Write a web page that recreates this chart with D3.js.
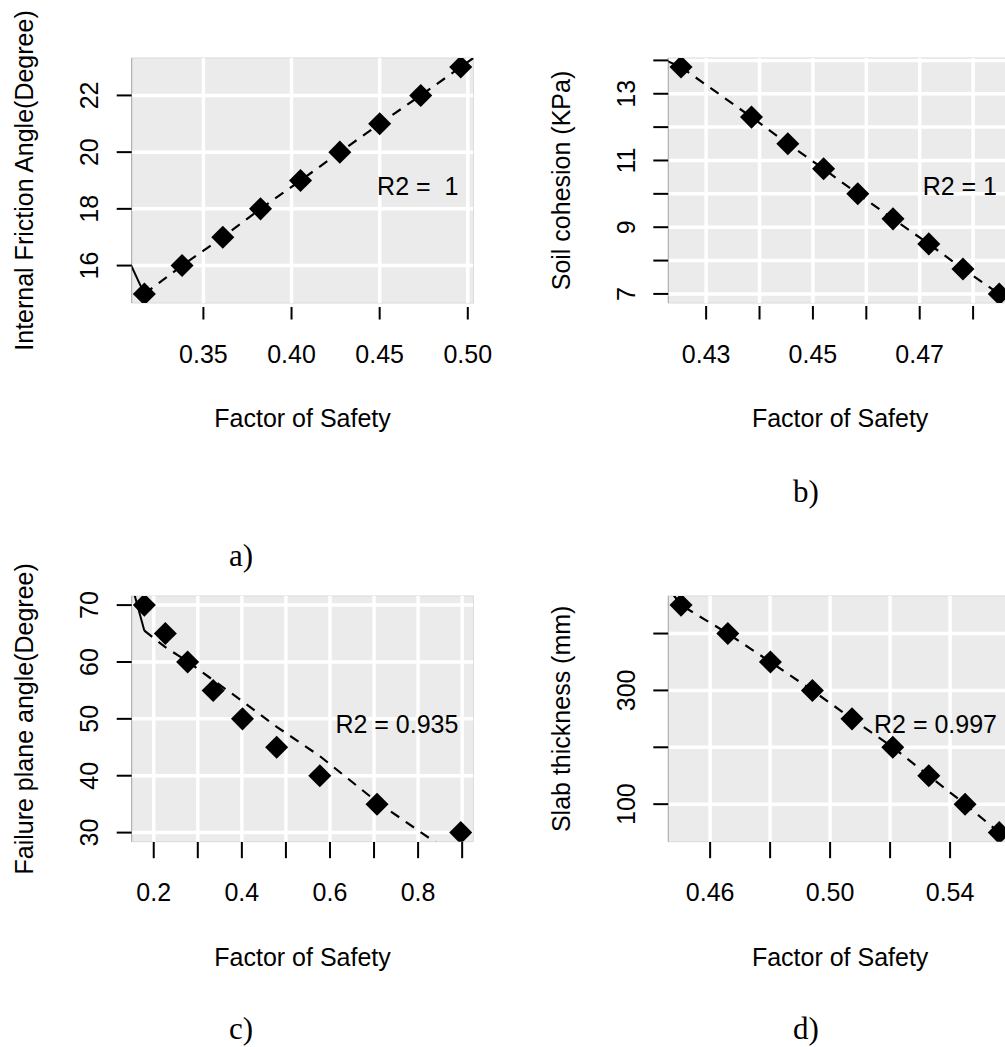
<!DOCTYPE html>
<html>
<head>
<meta charset="utf-8">
<script src="https://cdn.jsdelivr.net/npm/d3@7"></script>
<style>
  body { margin: 0; background: #fff; }
  svg { display: block; }
  text { font-family: "Liberation Sans", Arial, Helvetica, sans-serif; fill: #000; }
  .caption { font-family: "Liberation Serif", "Times New Roman", serif; }
</style>
</head>
<body>
<svg id="chart" width="1005" height="1047"></svg>
<script>
// ---- a) internal friction angle vs factor of safety ----
const fsFriction     = [0.3165, 0.3379, 0.3610, 0.3824, 0.4051, 0.4274, 0.4500, 0.4733, 0.4960];
const frictionAngle  = [15, 16, 17, 18, 19, 20, 21, 22, 23];
const frictionFitX   = [0.3165, 0.3379, 0.3610, 0.3824, 0.4051, 0.4274, 0.4500, 0.4733, 0.4960, 0.5050];
const frictionFitY   = [15, 16, 17, 18, 19, 20, 21, 22, 23, 23.4];
const frictionLeadX  = [0.3050, 0.3165];
const frictionLeadY  = [16.54, 15];
const frictionXTicks = [0.35, 0.40, 0.45, 0.50];
const frictionXLabels = ["0.35", "0.40", "0.45", "0.50"];
const frictionYTicks = [16, 18, 20, 22];
const frictionYLabels = ["16", "18", "20", "22"];

// ---- b) soil cohesion vs factor of safety ----
const fsCohesion     = [0.4253, 0.4385, 0.4453, 0.4520, 0.4584, 0.4650, 0.4717, 0.4781, 0.4849];
const cohesion       = [13.8, 12.3, 11.5, 10.75, 10, 9.25, 8.5, 7.75, 7];
const cohesionFitX   = [0.4253, 0.4385, 0.4453, 0.4520, 0.4584, 0.4650, 0.4717, 0.4781, 0.4849, 0.4900];
const cohesionFitY   = [13.8, 12.3, 11.5, 10.75, 10, 9.25, 8.5, 7.75, 7, 6.42];
const cohesionLeadX  = [0.4200, 0.4253];
const cohesionLeadY  = [14.17, 13.8];
const cohesionXTicks = [0.43, 0.44, 0.45, 0.46, 0.47, 0.48];
const cohesionXLabels = ["0.43", "", "0.45", "", "0.47", ""];
const cohesionYTicks = [7, 8, 9, 10, 11, 12, 13, 14];
const cohesionYLabels = ["7", "", "9", "", "11", "", "13", ""];

// ---- c) failure plane angle vs factor of safety ----
const fsFailure      = [0.1787, 0.2263, 0.2769, 0.3349, 0.4014, 0.4790, 0.5769, 0.7068, 0.8968];
const failureAngle   = [70, 65, 60, 55, 50, 45, 40, 35, 30];
const failureFitX    = [0.1787, 0.2263, 0.2769, 0.3349, 0.4014, 0.4790, 0.5769, 0.7068, 0.8968];
const failureFitY    = [65.5, 62.6, 60.1, 56.8, 53.1, 48.6, 43.45, 35.4, 25.2];
const failureLeadX   = [0.1550, 0.1787];
const failureLeadY   = [72.2, 65.5];
const failureXTicks  = [0.2, 0.3, 0.4, 0.5, 0.6, 0.7, 0.8, 0.9];
const failureXLabels = ["0.2", "", "0.4", "", "0.6", "", "0.8", ""];
const failureYTicks  = [30, 40, 50, 60, 70];
const failureYLabels = ["30", "40", "50", "60", "70"];

// ---- d) slab thickness vs factor of safety ----
const fsSlab         = [0.4503, 0.4659, 0.4801, 0.4941, 0.5073, 0.5209, 0.5329, 0.5450, 0.5564];
const slabThickness  = [450, 400, 350, 300, 250, 200, 150, 100, 50];
const slabFitX       = [0.4475, 0.4503, 0.4659, 0.4801, 0.4941, 0.5073, 0.5209, 0.5329, 0.5450, 0.5564, 0.5620];
const slabFitY       = [470, 450, 400, 350, 300, 250, 200, 150, 100, 50, 29];
const slabLeadX      = [];
const slabLeadY      = [];
const slabXTicks     = [0.46, 0.48, 0.50, 0.52, 0.54];
const slabXLabels    = ["0.46", "", "0.50", "", "0.54"];
const slabYTicks     = [100, 200, 300, 400];
const slabYLabels    = ["100", "", "300", ""];

const xTitle = "Factor of Safety";
const yTitles = ["Internal Friction Angle(Degree)", "Soil cohesion (KPa)", "Failure plane angle(Degree)", "Slab thickness (mm)"];
const r2Labels = ["R2 =  1", "R2 = 1", "R2 = 0.935", "R2 = 0.997"];
const captions = ["a)", "b)", "c)", "d)"];

const panelData = [
  { x: fsFriction, y: frictionAngle, fx: frictionFitX, fy: frictionFitY, lx: frictionLeadX, ly: frictionLeadY,
    xt: frictionXTicks, xl: frictionXLabels, yt: frictionYTicks, yl: frictionYLabels },
  { x: fsCohesion, y: cohesion, fx: cohesionFitX, fy: cohesionFitY, lx: cohesionLeadX, ly: cohesionLeadY,
    xt: cohesionXTicks, xl: cohesionXLabels, yt: cohesionYTicks, yl: cohesionYLabels },
  { x: fsFailure, y: failureAngle, fx: failureFitX, fy: failureFitY, lx: failureLeadX, ly: failureLeadY,
    xt: failureXTicks, xl: failureXLabels, yt: failureYTicks, yl: failureYLabels },
  { x: fsSlab, y: slabThickness, fx: slabFitX, fy: slabFitY, lx: slabLeadX, ly: slabLeadY,
    xt: slabXTicks, xl: slabXLabels, yt: slabYTicks, yl: slabYLabels }
];

// plot regions (pixels) for the 2x2 layout
const frames = [
  { left: 131.7, right: 473.4, top: 58,  bottom: 303,   tickTop: 307 },
  { left: 668.3, right: 1012,  top: 58,  bottom: 303,   tickTop: 306 },
  { left: 131.7, right: 473.4, top: 596, bottom: 841.7, tickTop: 842 },
  { left: 668.3, right: 1012,  top: 596, bottom: 841.7, tickTop: 842 }
];
const captionPos = [
  { x: 241, y: 566 }, { x: 806, y: 502 }, { x: 241, y: 1039 }, { x: 806, y: 1039 }
];

const svg = d3.select("#chart");

// axis range padded by 4% on each side, like R's default
function padded(values) {
  const [lo, hi] = d3.extent(values);
  const pad = (hi - lo) * 0.04;
  return [lo - pad, hi + pad];
}

const diamond = d3.symbol().type(d3.symbolSquare).size(2 * 16.3 * 16.3 / 2);

panelData.forEach((p, i) => {
  const f = frames[i];
  const x = d3.scaleLinear().domain(padded(p.x)).range([f.left, f.right]);
  const y = d3.scaleLinear().domain(padded(p.y)).range([f.bottom, f.top]);
  const g = svg.append("g");

  const clipId = "clip" + i;
  svg.append("clipPath").attr("id", clipId)
    .append("rect")
    .attr("x", f.left).attr("y", f.top)
    .attr("width", f.right - f.left).attr("height", f.bottom - f.top);

  // background panel
  g.append("rect")
    .attr("x", f.left).attr("y", f.top)
    .attr("width", f.right - f.left).attr("height", f.bottom - f.top)
    .attr("fill", "#EBEBEB").attr("stroke", "#dadada").attr("stroke-width", 1);
  g.append("line")
    .attr("x1", f.left).attr("x2", f.left).attr("y1", f.top).attr("y2", f.bottom)
    .attr("stroke", "#a9a9a9").attr("stroke-width", 1);

  const inner = g.append("g").attr("clip-path", `url(#${clipId})`);

  // white grid at the tick positions
  inner.selectAll(".vgrid").data(p.xt).join("line")
    .attr("x1", d => x(d)).attr("x2", d => x(d))
    .attr("y1", f.top).attr("y2", f.bottom)
    .attr("stroke", "#fff").attr("stroke-width", 3.5);
  inner.selectAll(".hgrid").data(p.yt).join("line")
    .attr("y1", d => y(d)).attr("y2", d => y(d))
    .attr("x1", f.left).attr("x2", f.right)
    .attr("stroke", "#fff").attr("stroke-width", 3.5);

  // fitted curve: solid lead-in segment, then dashed
  const line = d3.line().x(d => x(d[0])).y(d => y(d[1]));
  if (p.lx.length) {
    inner.append("path")
      .attr("d", line(d3.zip(p.lx, p.ly)))
      .attr("fill", "none").attr("stroke", "#000").attr("stroke-width", 2);
  }
  inner.append("path")
    .attr("d", line(d3.zip(p.fx, p.fy)))
    .attr("fill", "none").attr("stroke", "#000").attr("stroke-width", 2.2)
    .attr("stroke-dasharray", "10,8");

  // filled diamonds
  inner.selectAll(".pt").data(d3.zip(p.x, p.y)).join("path")
    .attr("d", diamond)
    .attr("transform", d => `translate(${x(d[0])},${y(d[1])}) rotate(45)`)
    .attr("fill", "#000");

  // x ticks and labels
  g.selectAll(".xt").data(p.xt).join("line")
    .attr("x1", d => x(d)).attr("x2", d => x(d))
    .attr("y1", f.tickTop).attr("y2", f.bottom + 16.5)
    .attr("stroke", "#000").attr("stroke-width", 2);
  g.selectAll(".xl").data(d3.zip(p.xt, p.xl).filter(d => d[1] !== "")).join("text")
    .attr("x", d => x(d[0])).attr("y", f.bottom + 59.5)
    .attr("text-anchor", "middle").attr("font-size", 25)
    .text(d => d[1]);

  // y ticks and labels (parallel to the axis)
  g.selectAll(".yt").data(p.yt).join("line")
    .attr("y1", d => y(d)).attr("y2", d => y(d))
    .attr("x1", f.left - 15).attr("x2", f.left)
    .attr("stroke", "#000").attr("stroke-width", 2);
  g.selectAll(".yl").data(d3.zip(p.yt, p.yl).filter(d => d[1] !== "")).join("text")
    .attr("transform", d => `translate(${f.left - 33.5},${y(d[0])}) rotate(-90)`)
    .attr("text-anchor", "middle").attr("font-size", 25)
    .text(d => d[1]);

  // axis titles
  g.append("text")
    .attr("x", (f.left + f.right) / 2).attr("y", f.bottom + 124.3)
    .attr("text-anchor", "middle").attr("font-size", 25)
    .text(xTitle);
  g.append("text")
    .attr("transform", `translate(${f.left - 98.3},${(f.top + f.bottom) / 2}) rotate(-90)`)
    .attr("text-anchor", "middle").attr("font-size", 25)
    .text(yTitles[i]);

  // goodness-of-fit label
  g.append("text")
    .attr("x", f.right - 15).attr("y", f.top + 137)
    .attr("text-anchor", "end").attr("font-size", 25)
    .attr("xml:space", "preserve").style("white-space", "pre")
    .text(r2Labels[i]);

  // panel caption
  svg.append("text").attr("class", "caption")
    .attr("x", captionPos[i].x).attr("y", captionPos[i].y)
    .attr("text-anchor", "middle").attr("font-size", 31)
    .text(captions[i]);
});
</script>
</body>
</html>
